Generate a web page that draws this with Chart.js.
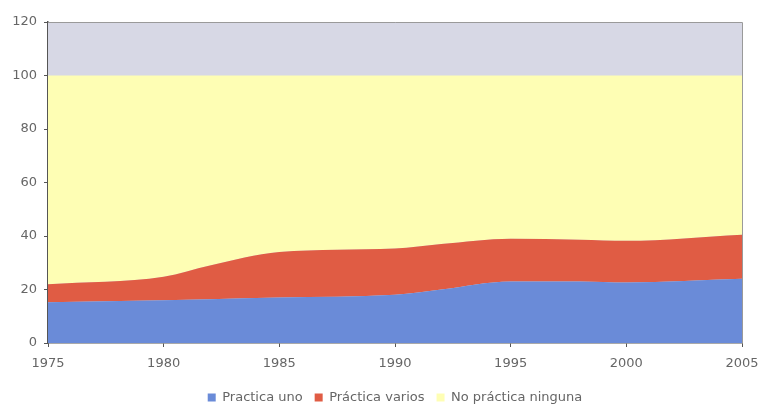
<!DOCTYPE html>
<html>
<head>
<meta charset="utf-8">
<script src="https://cdn.jsdelivr.net/npm/chart.js@4/dist/chart.umd.min.js"></script>
<style>
  html, body { margin: 0; padding: 0; background: #ffffff; }
  #wrap { width: 760px; height: 406px; }
</style>
</head>
<body>
<div id="wrap"><canvas id="c" width="760" height="406"></canvas></div>
<script>
// Años y porcentajes de población según práctica deportiva
const years = [1975, 1980, 1982, 1985, 1990, 1992, 1995, 1998, 2000, 2005];
const practicaUno    = [15.2, 16.0, 16.4, 17.0, 18.0, 20.0, 23.0, 23.0, 22.6, 24.0];
const practicaVarios = [6.8, 8.8, 12.6, 17.0, 17.3, 17.0, 16.0, 15.6, 15.6, 16.5];
const noPractica     = [78.0, 75.2, 71.0, 66.0, 64.7, 63.0, 61.0, 61.4, 61.8, 59.5];
const seriesNames = ['Practica uno', 'Práctica varios', 'No práctica ninguna'];
const yTicks = [0, 20, 40, 60, 80, 100, 120];
const xTicks = [1975, 1980, 1985, 1990, 1995, 2000, 2005];

const toPoints = arr => arr.map((v, i) => ({ x: years[i], y: v }));

// Fondo gris del área de trazado y marco superior/derecho
const plotFrame = {
  id: 'plotFrame',
  beforeDatasetsDraw(chart) {
    const { ctx, chartArea: a } = chart;
    ctx.save();
    ctx.fillStyle = '#d7d8e5';
    ctx.fillRect(a.left, a.top, a.right - a.left, a.bottom - a.top);
    ctx.restore();
  },
  afterDatasetsDraw(chart) {
    const { ctx, chartArea: a } = chart;
    ctx.save();
    ctx.strokeStyle = '#9a9a9a';
    ctx.lineWidth = 1;
    ctx.beginPath();
    ctx.moveTo(a.left, a.top + 0.5);
    ctx.lineTo(a.right + 0.5, a.top + 0.5);
    ctx.lineTo(a.right + 0.5, a.bottom);
    ctx.stroke();
    ctx.restore();
  }
};

const common = {
  pointRadius: 0,
  pointHoverRadius: 0,
  borderWidth: 0,
  cubicInterpolationMode: 'monotone'
};

new Chart(document.getElementById('c'), {
  type: 'line',
  data: {
    datasets: [
      { ...common, label: seriesNames[0], data: toPoints(practicaUno),
        backgroundColor: '#6a8bd8', borderColor: '#6a8bd8', fill: 'origin' },
      { ...common, label: seriesNames[1], data: toPoints(practicaVarios),
        backgroundColor: '#e05c44', borderColor: '#e05c44', fill: '-1' },
      { ...common, label: seriesNames[2], data: toPoints(noPractica),
        backgroundColor: '#fefeb4', borderColor: '#fefeb4', fill: '-1' }
    ]
  },
  options: {
    responsive: false,
    animation: false,
    events: [],
    layout: { padding: { top: 22, right: 18, left: 0, bottom: -8 } },
    plugins: {
      tooltip: { enabled: false },
      legend: {
        position: 'bottom',
        fullSize: false,
        labels: {
          boxWidth: 8,
          boxHeight: 8,
          padding: 12,
          color: '#666',
          font: { family: 'DejaVu Sans', size: 13 }
        }
      }
    },
    scales: {
      x: {
        type: 'linear',
        min: 1975,
        max: 2005,
        afterBuildTicks(scale) { scale.ticks = xTicks.map(v => ({ value: v })); },
        afterFit(scale) {
          scale.height = 36;
          scale.paddingLeft = 0;
          scale.paddingRight = 0;
        },
        ticks: {
          color: '#666',
          font: { family: 'DejaVu Sans', size: 13 },
          padding: 9,
          maxRotation: 0,
          callback: v => String(v)
        },
        grid: { display: true, drawOnChartArea: false, tickLength: 4, color: '#555' },
        border: { display: true, color: '#555', width: 1.5 }
      },
      y: {
        stacked: true,
        min: 0,
        max: 120,
        afterBuildTicks(scale) { scale.ticks = yTicks.map(v => ({ value: v })); },
        afterFit(scale) { scale.width = 48; },
        ticks: {
          color: '#666',
          font: { family: 'DejaVu Sans', size: 13 },
          padding: 7
        },
        grid: { display: true, drawOnChartArea: false, tickLength: 4, color: '#555' },
        border: { display: true, color: '#555', width: 1.5 }
      }
    }
  },
  plugins: [plotFrame]
});
</script>
</body>
</html>
